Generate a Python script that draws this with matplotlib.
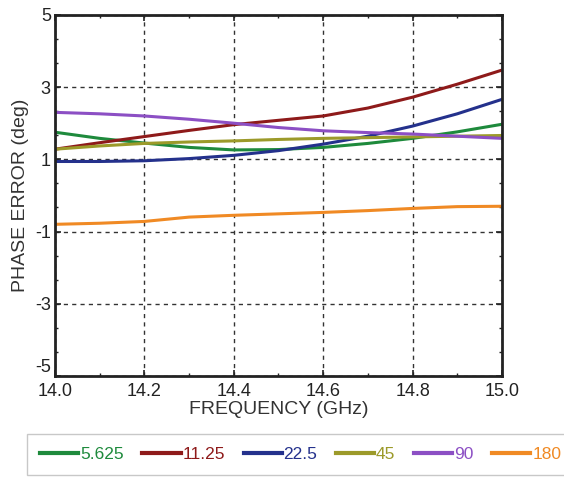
import matplotlib.pyplot as plt
from matplotlib.ticker import MultipleLocator, AutoMinorLocator

plt.rcParams['font.family'] = ['Liberation Sans', 'DejaVu Sans']
plt.rcParams['axes.unicode_minus'] = False

# Frecuencia (GHz)
freq = [14.0, 14.1, 14.2, 14.3, 14.4, 14.5, 14.6, 14.7, 14.8, 14.9, 15.0]

# Error de fase (deg) por estado
err_5625 = [1.75, 1.58, 1.45, 1.33, 1.26, 1.27, 1.33, 1.44, 1.58, 1.76, 1.97]
err_1125 = [1.28, 1.46, 1.63, 1.80, 1.96, 2.08, 2.20, 2.42, 2.72, 3.08, 3.47]
err_225 = [0.94, 0.94, 0.96, 1.02, 1.11, 1.24, 1.42, 1.64, 1.92, 2.26, 2.66]
err_45 = [1.28, 1.37, 1.44, 1.48, 1.51, 1.55, 1.58, 1.60, 1.62, 1.64, 1.66]
err_90 = [2.30, 2.26, 2.20, 2.11, 2.00, 1.88, 1.79, 1.74, 1.70, 1.64, 1.58]
err_180 = [-0.80, -0.77, -0.72, -0.60, -0.55, -0.51, -0.47, -0.42, -0.36, -0.31, -0.30]

series = [
    ("5.625", err_5625, "#1e8a3c"),
    ("11.25", err_1125, "#8e1a1a"),
    ("22.5", err_225, "#24318c"),
    ("45", err_45, "#9c9a2a"),
    ("90", err_90, "#8c4fc4"),
    ("180", err_180, "#f08a24"),
]

fig = plt.figure(figsize=(5.64, 4.79), dpi=100)
ax = fig.add_axes([0.0975, 0.215, 0.7925, 0.754])

lineas = []
for nombre, vals, color in series:
    l, = ax.plot(freq, vals, color=color, lw=2.2, label=nombre)
    lineas.append(l)

ax.set_xlim(14.0, 15.0)
ax.set_ylim(-5, 5)
ax.xaxis.set_minor_locator(MultipleLocator(0.1))
ax.yaxis.set_minor_locator(AutoMinorLocator(3))
ax.set_xticks([14.0, 14.2, 14.4, 14.6, 14.8, 15.0])
ax.set_xticklabels(["14.0", "14.2", "14.4", "14.6", "14.8", "15.0"])
ax.set_yticks([-5, -3, -1, 1, 3, 5])

ax.tick_params(which='both', direction='in', top=True, right=True, labelsize=13, colors='#222222')
ax.tick_params(which='major', length=4, width=1.2)
ax.tick_params(axis='x', which='major', pad=5)
ax.tick_params(axis='y', which='major', pad=3)
ax.tick_params(which='minor', length=2.5, width=1)
ax.grid(True, which='major', linestyle=(0, (3, 3)), color='#333333', lw=1)
for s in ax.spines.values():
    s.set_linewidth(2)
    s.set_color('#222222')

# el -5 queda un poco por encima del 14.0
ax.get_yticklabels()[0].set_va('bottom')

ax.set_xlabel("FREQUENCY (GHz)", fontsize=14, color='#333333', labelpad=1)
ax.set_ylabel("PHASE ERROR (deg)", fontsize=14, color='#333333', labelpad=4)

leg = fig.legend(handles=lineas, loc='lower left', bbox_to_anchor=(0.048, 0.008, 0.97, 0.083),
                 mode='expand', ncol=6, fontsize=12.5, handlelength=2.2, handletextpad=0.1,
                 columnspacing=0.35, borderpad=0.75, fancybox=False, edgecolor='#bbbbbb',
                 borderaxespad=0)
for txt, (nombre, vals, color) in zip(leg.get_texts(), series):
    txt.set_color(color)
for h in leg.legend_handles:
    h.set_linewidth(3)

fig.savefig("out.png", dpi=100)
